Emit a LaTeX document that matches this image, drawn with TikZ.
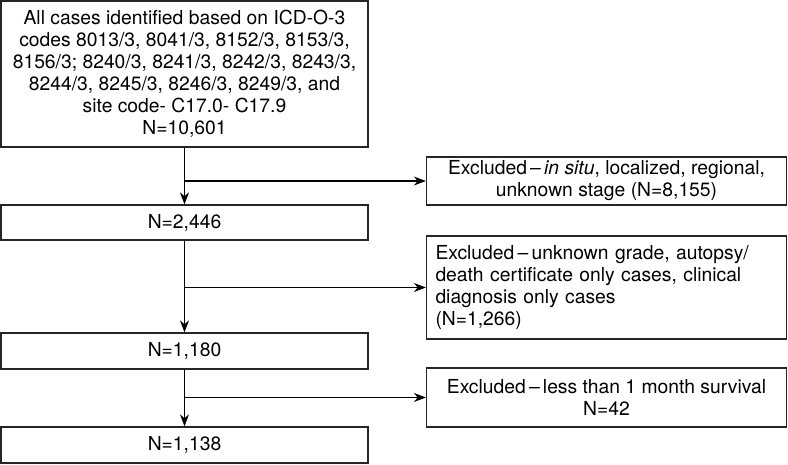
\documentclass[tikz,border=0pt]{standalone}
\usepackage{fontspec}
\setmainfont{TeX Gyre Heros}
\usetikzlibrary{arrows.meta}
\begin{document}
\begin{tikzpicture}[x=1pt,y=-1pt,inner sep=0pt,line width=1.1pt,
  >={Stealth[length=12pt,width=9pt]},
  box/.style={draw=black!85,line width=1.3pt,minimum width=367pt,align=center,
    font=\fontsize{19.3}{22}\selectfont},
  exbox/.style={box,minimum width=360pt}]
\useasboundingbox (0,0) rectangle (788,464);

\node[box,minimum height=146pt](all) at (184.5,74) {All cases identified based on ICD-O-3\\codes 8013/3, 8041/3, 8152/3, 8153/3,\\8156/3; 8240/3, 8241/3, 8242/3, 8243/3,\\8244/3, 8245/3, 8246/3, 8249/3, and\\site code- C17.0- C17.9\\N=10,601};
\node[box,minimum height=35pt](n1) at (184.5,222.5) {N=2,446};
\node[box,minimum height=36pt](n2) at (184.5,351) {N=1,180};
\node[box,minimum height=36pt](n3) at (184.5,445) {N=1,138};

\node[exbox,minimum height=48pt](e1) at (606.5,181) {Excluded\,–\,\textit{in situ}, localized, regional,\\unknown stage (N=8,155)};
\node[exbox,minimum height=103pt,text width=342pt,inner xsep=9pt,align=left](e2) at (606.5,287.5) {Excluded\,–\,unknown grade, autopsy/\\death certificate only cases, clinical\\diagnosis only cases\\(N=1,266)};
\node[exbox,minimum height=59pt](e3) at (606.5,397.5) {Excluded\,–\,less than 1 month survival\\N=42};

\coordinate(b1) at (all.south |- e1.west);
\coordinate(b2) at (n1.south |- e2.west);
\coordinate(b3) at (n2.south |- e3.west);

\draw[->] (all) -- (n1);
\draw[->] (n1) -- (n2);
\draw[->] (n2) -- (n3);
\draw[->] (b1) -- (e1.west);
\draw[->] (b2) -- (e2.west);
\draw[->] (b3) -- (e3.west);

\end{tikzpicture}
\end{document}
